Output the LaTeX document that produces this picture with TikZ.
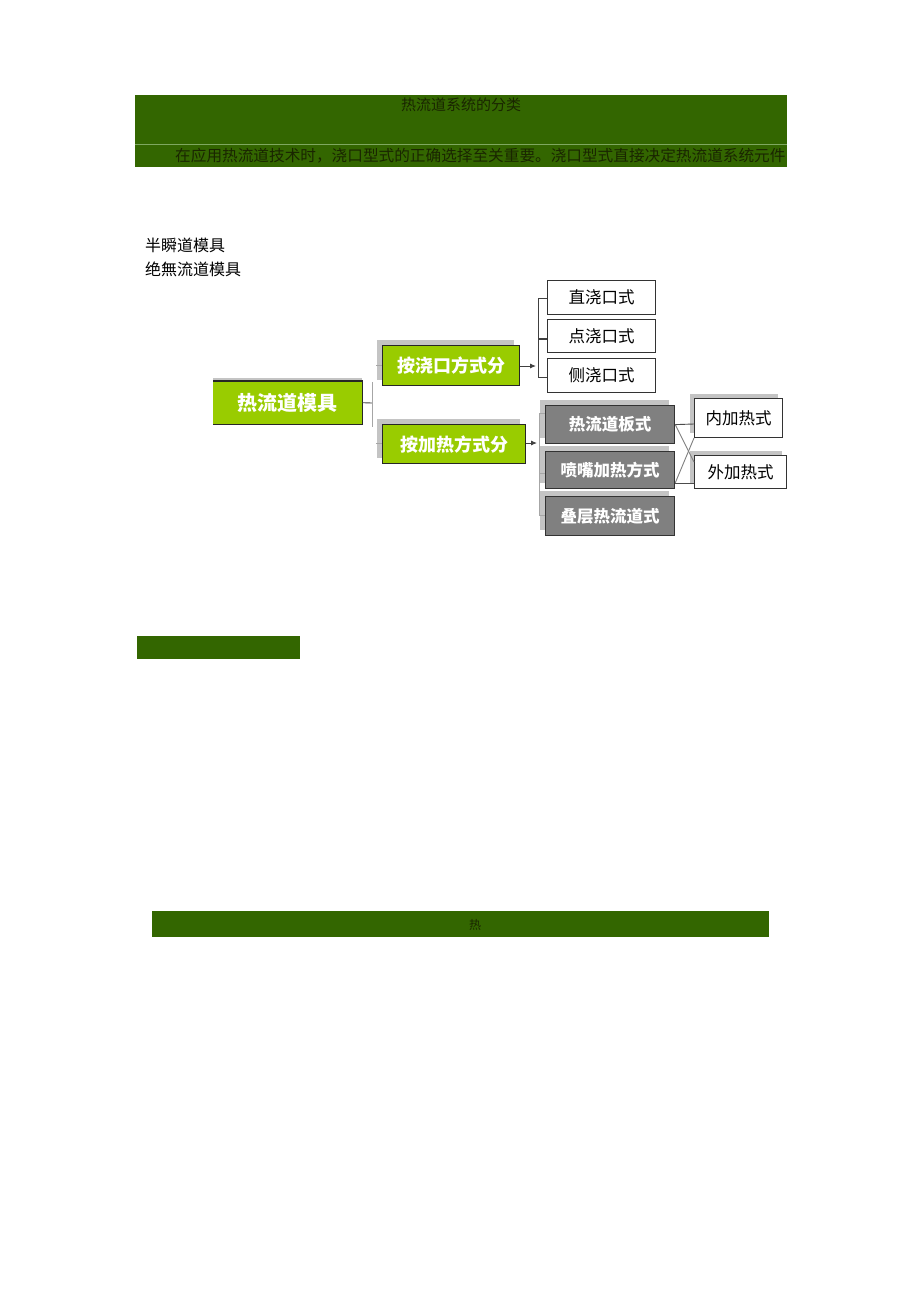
\documentclass[tikz,border=0pt]{standalone}
\usepackage{fontspec}
\setmainfont{Noto Sans CJK SC}
\newfontfamily\cjk{Noto Sans CJK SC}
\usetikzlibrary{shadows,arrows.meta,calc}
\definecolor{bargreen}{HTML}{336600}
\definecolor{barline}{HTML}{7FA860}
\definecolor{boxgreen}{HTML}{99CC00}
\definecolor{boxgray}{HTML}{808080}
\definecolor{shadowgray}{HTML}{C4C4C4}
\definecolor{bartext}{HTML}{1A2600}
\tikzset{
  bar/.style={fill=bargreen, draw=none, inner sep=0pt, anchor=north west},
  bartxt/.style={text=bartext, inner sep=0pt, font=\cjk\fontsize{15}{15}\selectfont},
  plain/.style={inner sep=0pt, anchor=west, font=\cjk\fontsize{16}{16}\selectfont},
  gshadow/.style={general shadow={fill=shadowgray, shadow xshift=-6pt, shadow yshift=6pt}},
  greenbox/.style={fill=boxgreen, draw=black!85, line width=1.2pt, inner sep=0pt, anchor=north west, text=white, font=\cjk\bfseries\fontsize{18}{18}\selectfont, gshadow},
  whitebox/.style={fill=white, draw=black!80, line width=1pt, inner sep=0pt, anchor=north west, text=black, font=\cjk\fontsize{16.5}{16.5}\selectfont},
  graybox/.style={fill=boxgray, draw=black!80, line width=1.2pt, inner sep=0pt, anchor=north west, text=white, font=\cjk\bfseries\fontsize{16.5}{16.5}\selectfont, gshadow},
  rbox/.style={whitebox, general shadow={fill=shadowgray, shadow xshift=-5pt, shadow yshift=5pt}},
  conn/.style={draw=black!75, line width=0.9pt},
  stub/.style={draw=gray!70, line width=1pt},
  arr/.style={conn, -{Latex[length=6pt,width=5pt]}}
}
\begin{document}
\begin{tikzpicture}[x=1pt,y=-1pt]
\useasboundingbox (0,0) rectangle (920,1302);
\fill[white] (0,0) rectangle (920,1302);
% top bar
\node[bar, minimum width=652pt, minimum height=72pt] (topbar) at (135,95) {};
\draw[barline, line width=0.8pt] (135,144) -- (787,144);
\node[bartxt] (title) at (461,105) {热流道系统的分类};
\node[bartxt, anchor=west, font=\cjk\fontsize{15.65}{15.65}\selectfont] (intro) at (175,156) {在应用热流道技术时，浇口型式的正确选择至关重要。浇口型式直接决定热流道系统元件};
% left labels
\node[plain] (l1) at (145,245) {半瞬道模具};
\node[plain] (l2) at (145,269) {绝無流道模具};
% root
\node[fill=boxgreen, inner sep=0pt, anchor=north west, minimum width=149pt, minimum height=43pt, text=white, font=\cjk\bfseries\fontsize{20}{20}\selectfont] (root) at (213,381) {热流道模具};
\fill[shadowgray] (213,378) rectangle (362,381);
\draw[black!85, line width=1.2pt] (root.north west) -- (root.north east) -- (root.south east) -- (root.south west);
% level 1
\node[greenbox, minimum width=137pt, minimum height=40pt] (g1) at (382,345) {按浇口方式分};
\node[greenbox, minimum width=143pt, minimum height=39pt] (g2) at (382,424) {按加热方式分};
% level 2 white
\node[whitebox, minimum width=108pt, minimum height=34pt] (w1) at (547,280) {直浇口式};
\node[whitebox, minimum width=108pt, minimum height=33pt] (w2) at (547,319) {点浇口式};
\node[whitebox, minimum width=108pt, minimum height=34pt] (w3) at (547,358) {侧浇口式};
% level 2 gray
\node[graybox, minimum width=129pt, minimum height=38pt] (d1) at (545,405) {热流道板式};
\node[graybox, minimum width=129pt, minimum height=37pt] (d2) at (545,451) {喷嘴加热方式};
\node[graybox, minimum width=129pt, minimum height=39pt] (d3) at (545,496) {叠层热流道式};
% level 3
\node[rbox, minimum width=88pt, minimum height=39pt] (r1) at (694,398) {内加热式};
\node[rbox, minimum width=92pt, minimum height=33pt] (r2) at (694,455) {外加热式};
% connectors root
\coordinate (j0) at (372,403);
\coordinate (j0t) at (372,382);
\coordinate (j0b) at (372,427);
\coordinate (s1) at (376,365);
\coordinate (s2) at (376,443);
\draw[conn] (root.east) -- (j0);
\draw[stub] (j0t) -- (j0b);
\draw[stub] (s1) -- (s1 -| g1.west);
\draw[stub] (s2) -- (s2 -| g2.west);
% gate bus
\coordinate (a1) at (536,366);
\coordinate (b1t) at (538,298);
\coordinate (b1b) at (538,377);
\draw[arr] (g1.east |- a1) -- (a1);
\draw[conn] (b1t) -- (b1b);
\draw[conn] (b1t) -- (b1t -| w1.west);
\draw[conn, line width=1.6pt] (538,339) -- (w2.west |- 0,339);
\draw[conn] (b1b) -- (b1b -| w3.west);
% heating bus
\coordinate (a2) at (537,443);
\coordinate (b2t) at (539,413);
\coordinate (b2m) at (539,473);
\coordinate (b2b) at (539,515);
\draw[arr] (g2.east |- a2) -- (a2);
\draw[stub] (b2t) -- (b2b);
\draw[stub] (b2t) -- (b2t -| d1.west);
\draw[stub] (b2m) -- (b2m -| d2.west);
\draw[stub] (b2b) -- (b2b -| d3.west);
% cross
\coordinate (c1) at (694,424);
\coordinate (c2) at (694,483);
\coordinate (c3) at (694,462);
\coordinate (c4) at (694,438);
\draw[conn, black!70] (d1.east) -- (c1);
\draw[conn, black!70] (d2.east |- c2) -- (c2);
\draw[conn, gray] (d1.east) -- (c3);
\draw[conn, gray] (d2.east |- c2) -- (c4);
% lower bars
\node[bar, minimum width=163pt, minimum height=23pt] (bar2) at (137,636) {};
\node[bar, minimum width=617pt, minimum height=26pt] (bar3) at (152,911) {};
\node[bartxt, font=\cjk\fontsize{12}{12}\selectfont] (heat) at (475,925) {热};
\end{tikzpicture}
\end{document}
